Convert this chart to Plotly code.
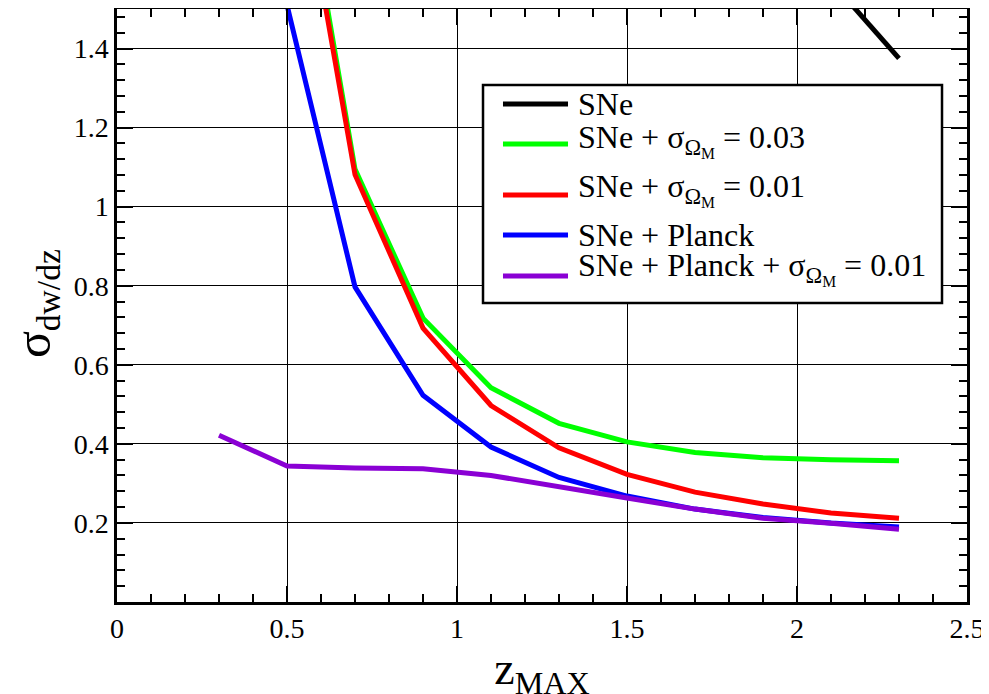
import plotly.graph_objects as go

# ---- data ----
z_sne = [2.1, 2.3]
s_sne = [1.57, 1.375]

z_main = [0.5, 0.7, 0.9, 1.1, 1.3, 1.5, 1.7, 1.9, 2.1, 2.3]
s_om03 = [2.10, 1.095, 0.718, 0.542, 0.452, 0.405, 0.378, 0.365, 0.360, 0.357]
s_om01 = [2.06, 1.081, 0.693, 0.497, 0.390, 0.323, 0.278, 0.248, 0.225, 0.212]
s_planck = [1.51, 0.797, 0.523, 0.392, 0.315, 0.268, 0.235, 0.214, 0.200, 0.190]

z_pl_om = [0.3, 0.5, 0.7, 0.9, 1.1, 1.3, 1.5, 1.7, 1.9, 2.1, 2.3]
s_pl_om = [0.422, 0.344, 0.339, 0.337, 0.320, 0.293, 0.263, 0.235, 0.212, 0.199, 0.184]

names = [
    "SNe",
    "SNe + σ<sub>Ω<sub>M</sub></sub> = 0.03",
    "SNe + σ<sub>Ω<sub>M</sub></sub> = 0.01",
    "SNe + Planck",
    "SNe + Planck + σ<sub>Ω<sub>M</sub></sub> = 0.01",
]
colors = ["#000000", "#00ff00", "#ff0000", "#0000ff", "#8a00d4"]

xs = [z_sne, z_main, z_main, z_main, z_pl_om]
ys = [s_sne, s_om03, s_om01, s_planck, s_pl_om]

x_title = "z<sub>MAX</sub>"
y_title = "<span style='font-size:50px'>σ</span><sub>dw/dz</sub>"

FONT = "Liberation Serif, Times New Roman, Times, serif"

fig = go.Figure()
for x, y, n, c in zip(xs, ys, names, colors):
    fig.add_trace(go.Scatter(x=x, y=y, mode="lines", name=n,
                             line=dict(color=c, width=5), showlegend=False))

axis_common = dict(
    showline=True, linecolor="black", linewidth=2.5, mirror="ticks",
    ticks="inside", ticklen=16, tickwidth=2, tickcolor="black",
    showgrid=True, gridcolor="black", gridwidth=1,
    zeroline=False,
    tickfont=dict(family=FONT, size=28, color="black"),
)

fig.update_xaxes(
    range=[0, 2.5], dtick=0.5, tick0=0,
    minor=dict(dtick=0.1, ticks="inside", ticklen=8, tickwidth=2,
               tickcolor="black", showgrid=False),
    title=dict(text=x_title, font=dict(family=FONT, size=46, color="black"),
               standoff=9),
    **axis_common,
)
fig.update_yaxes(
    range=[0, 1.5], dtick=0.2, tick0=0,
    tickvals=[0.2, 0.4, 0.6, 0.8, 1.0, 1.2, 1.4],
    ticktext=["0.2", "0.4", "0.6", "0.8", "1", "1.2", "1.4"],
    minor=dict(dtick=0.04, tick0=0, ticks="inside", ticklen=8, tickwidth=2,
               tickcolor="black", showgrid=False),
    **axis_common,
)

# ---- legend drawn as a boxed key (paper coordinates) ----
box_x0, box_x1, box_y0, box_y1 = 0.4306, 0.9706, 0.5042, 0.8718
line_x0, line_x1, text_x = 0.4541, 0.5306, 0.5400
row_y = [0.8398, 0.7723, 0.6863, 0.6189, 0.5497]
row_shift = [0, 4, 6, 0, 8]

shapes = [dict(type="rect", xref="paper", yref="paper",
               x0=box_x0, x1=box_x1, y0=box_y0, y1=box_y1,
               line=dict(color="black", width=2.5), fillcolor="white", layer="above")]
annotations = []
for n, c, ry, sh in zip(names, colors, row_y, row_shift):
    shapes.append(dict(type="line", xref="paper", yref="paper",
                       x0=line_x0, x1=line_x1, y0=ry, y1=ry,
                       line=dict(color=c, width=5), layer="above"))
    annotations.append(dict(xref="paper", yref="paper", x=text_x, y=ry, yshift=sh,
                            xanchor="left", yanchor="middle", showarrow=False,
                            text=n, font=dict(family=FONT, size=32, color="black")))

# y-axis title placed beside the axis
annotations.append(dict(xref="paper", yref="paper", x=-0.0953, y=0.504,
                        xanchor="center", yanchor="middle", textangle=-90,
                        showarrow=False, text=y_title,
                        font=dict(family=FONT, size=48, color="black")))

fig.update_layout(
    width=989, height=694,
    margin=dict(l=109, r=30, t=1, b=100, autoexpand=False),
    plot_bgcolor="white", paper_bgcolor="white",
    font=dict(family=FONT, color="black"),
    showlegend=False,
    shapes=shapes,
    annotations=annotations,
)

fig.write_html("out.html")
